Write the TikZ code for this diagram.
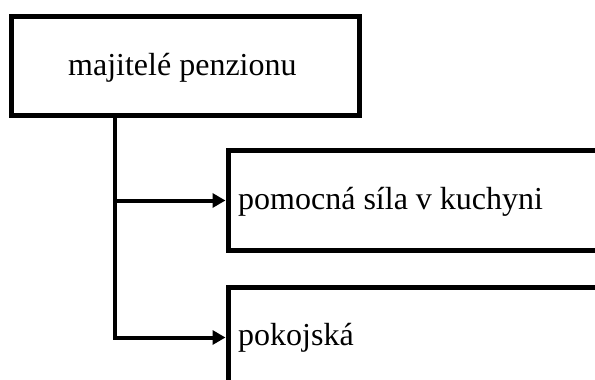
\documentclass[tikz,border=0pt]{standalone}
\usepackage{fontspec}
\setmainfont{Liberation Serif}
\usetikzlibrary{arrows.meta}
\begin{document}
\begin{tikzpicture}[x=1pt,y=-1pt,
  boxframe/.style={draw=black,line width=5pt,inner sep=0pt,rectangle},
  boxtext/.style={inner sep=0pt,anchor=base west,font=\fontsize{32}{38}\selectfont},
  conn/.style={draw=black,line width=4pt},
  arr/.style={conn,-{Triangle[length=13pt,width=14pt]}}]
\useasboundingbox (0,0) rectangle (595,380);
\clip (0,0) rectangle (595,380);
\node[boxframe,minimum width=348pt,minimum height=99pt] (owners) at (185.5,66) {};
\node[boxframe,minimum width=424pt,minimum height=100pt,anchor=west] (kitchen) at (225.5,200.5) {};
\node[boxframe,minimum width=424pt,minimum height=100pt,anchor=west] (maid) at (225.5,337.5) {};
\node[boxtext] (t1) at (68,75) {majitelé penzionu};
\node[boxtext] (t2) at (238,209) {pomocná síla v kuchyni};
\node[boxtext] (t3) at (238,345) {pokojská};
\coordinate (spine) at (115,115.5);
\draw[arr] (spine) |- (maid.west);
\draw[arr] (spine |- kitchen.west) -- (kitchen.west);
\end{tikzpicture}
\end{document}
